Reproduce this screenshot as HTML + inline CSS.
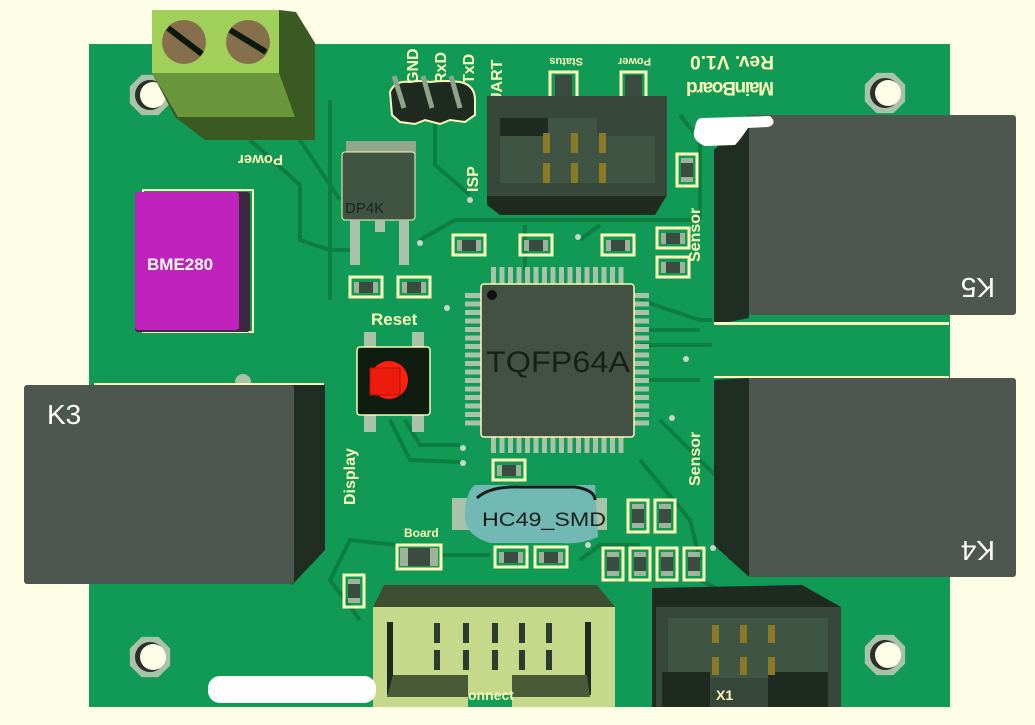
<!DOCTYPE html>
<html><head><meta charset="utf-8"><style>
html,body{margin:0;padding:0;background:#fefee6;}
svg{display:block}
text{font-family:"Liberation Sans",sans-serif;}
</style></head><body>
<svg width="1035" height="725" viewBox="0 0 1035 725" xmlns="http://www.w3.org/2000/svg">
<defs>
<g id="sh"><rect x="0" y="0" width="32" height="20" fill="none" stroke="#fcf9b8" stroke-width="3"/><rect x="4" y="5" width="24" height="11" fill="#9db49b"/><rect x="9" y="5" width="14" height="11" fill="#3c4b3f"/></g>
<g id="sv"><rect x="0" y="0" width="20" height="32" fill="none" stroke="#fcf9b8" stroke-width="3"/><rect x="4" y="4" width="12" height="24" fill="#9db49b"/><rect x="4" y="9" width="12" height="14" fill="#3c4b3f"/></g>
<g id="hole"><polygon points="-13,-31 13,-31 31,-13 31,13 13,31 -13,31 -31,13 -31,-13" transform="scale(0.65)" fill="#a8c3a7"/><circle r="15" fill="#2a2f2b"/><circle cx="3" r="13" fill="#fefee6"/></g>
</defs>
<rect x="89" y="44" width="861" height="663" fill="#109a55"/>
<g stroke="#0d7d42" stroke-width="4" fill="none">
<path d="M250 140 L300 185 L300 240 L330 250 L350 250"/>
<path d="M300 140 L340 200"/>
<path d="M435 122 L435 165 L470 195"/>
<path d="M420 240 L455 220 L700 220"/>
<path d="M525 225 L525 270"/><path d="M600 225 L580 240"/>
<path d="M640 380 L700 380"/><path d="M640 460 L690 520 L700 560"/>
<path d="M660 420 L730 490 L730 560"/>
<path d="M405 420 L420 445 L460 445"/><path d="M390 420 L410 460 L460 462"/>
<path d="M360 620 L330 580 L350 540 L396 545"/>
<path d="M440 555 L490 555"/><path d="M580 560 L600 545 L640 545"/>
<path d="M700 580 L740 600"/><path d="M330 100 L330 300"/>
<path d="M680 115 L700 140 L700 220"/>
<path d="M640 300 L700 320 L712 320"/>
<path d="M640 345 L712 345"/><path d="M640 330 L700 330"/>
</g>
<g fill="#c8d6c6"><circle cx="470" cy="200" r="3"/><circle cx="420" cy="243" r="3"/><circle cx="578" cy="237" r="3"/><circle cx="617" cy="309" r="3"/><circle cx="686" cy="359" r="3"/><circle cx="463" cy="463" r="3"/><circle cx="463" cy="448" r="3"/><circle cx="588" cy="545" r="3"/><circle cx="713" cy="548" r="3"/><circle cx="672" cy="418" r="3"/><circle cx="447" cy="308" r="3"/></g>
<use href="#hole" x="150" y="95"/><use href="#hole" x="885" y="93"/><use href="#hole" x="150" y="657"/><use href="#hole" x="885" y="655"/>
<circle cx="243" cy="382" r="8" fill="#a8c3a7"/><circle cx="597" cy="330" r="8" fill="#a8c3a7"/>
<polygon points="279,10 296,12 315,43 315,140 205,140 175,117 152,73 152,10" fill="#3b5a22"/>
<rect x="152" y="10" width="127" height="63" fill="#a1d05a"/>
<polygon points="152,73 279,73 295,117 178,117" fill="#6a963c"/>
<circle cx="184" cy="42" r="22" fill="#86704c"/><line x1="168" y1="28" x2="202" y2="54" stroke="#0c1a0c" stroke-width="6"/>
<circle cx="248" cy="42" r="22" fill="#86704c"/><line x1="230" y1="30" x2="266" y2="52" stroke="#0c1a0c" stroke-width="6"/>
<text transform="translate(283,155) rotate(180)" fill="#fcf9b8" font-size="15" font-weight="bold">Power</text>
<rect x="143" y="190" width="110" height="142" fill="none" stroke="#fcf9b8" stroke-width="2"/>
<rect x="135" y="192" width="115" height="140" rx="3" fill="#3d2841"/>
<rect x="135" y="192" width="104" height="138" rx="3" fill="#c022bc"/>
<text x="147" y="270" fill="#fff" font-size="17" font-weight="bold">BME280</text>
<rect x="346" y="141" width="70" height="13" fill="#93a68e"/>
<rect x="342" y="152" width="73" height="68" rx="3" fill="#3f5443" stroke="#fcf9b8" stroke-width="1"/>
<text x="345" y="213" fill="#1a261c" font-size="15">DP4K</text>
<rect x="350" y="220" width="10" height="45" fill="#a8c3a7"/><rect x="399" y="220" width="10" height="45" fill="#a8c3a7"/><rect x="375" y="220" width="10" height="12" fill="#a8c3a7"/>
<g fill="#fcf9b8" font-size="16" font-weight="bold">
<text transform="translate(418,84) rotate(-90)">GND</text><text transform="translate(446,84) rotate(-90)">RxD</text><text transform="translate(474,84) rotate(-90)">TxD</text><text transform="translate(502,104) rotate(-90)">UART</text>
</g>
<path d="M390 92 Q395 80 410 82 Q420 80 430 82 Q445 80 460 82 Q475 85 475 100 L475 115 L465 122 L450 120 L440 124 L425 120 L415 124 L400 122 L392 115 Z" fill="#1f2b21" stroke="#fcf9b8" stroke-width="2"/>
<g stroke="#8fa58b" stroke-width="5"><line x1="394" y1="76" x2="404" y2="108"/><line x1="423" y1="76" x2="432" y2="108"/><line x1="451" y1="76" x2="460" y2="108"/></g>
<g fill="#fcf9b8" font-size="16" font-weight="bold">
<text transform="translate(478,192) rotate(-90)">ISP</text>
<text transform="translate(700,262) rotate(-90)">Sensor</text><text transform="translate(700,486) rotate(-90)">Sensor</text>
<text transform="translate(355,505) rotate(-90)">Display</text>
<text x="371" y="325" font-size="17">Reset</text>
<text x="404" y="537" font-size="12">Board</text>
</g>
<g fill="#fcf9b8" font-size="11" font-weight="bold"><text transform="translate(583,58) rotate(180)">Status</text><text transform="translate(651,58) rotate(180)">Power</text></g>
<g fill="#fcf9b8" font-size="19" font-weight="bold"><text transform="translate(774,56) rotate(180)" textLength="84">Rev. V1.0</text><text transform="translate(774,82) rotate(180)" textLength="88">MainBoard</text></g>
<rect x="550" y="72" width="27" height="45" fill="none" stroke="#fcf9b8" stroke-width="3"/><rect x="555" y="75" width="17" height="38" fill="#3c4b3f"/>
<rect x="621" y="72" width="25" height="30" fill="none" stroke="#fcf9b8" stroke-width="3"/><rect x="625" y="75" width="17" height="25" fill="#3c4b3f"/>
<polygon points="487,98 667,98 667,195 655,215 500,215 487,205" fill="#1f2b21"/>
<rect x="487" y="96" width="180" height="100" fill="#374739"/>
<rect x="500" y="118" width="155" height="65" fill="#3f5443"/>
<rect x="500" y="118" width="48" height="18" fill="#1f2b21"/><rect x="597" y="98" width="68" height="38" fill="#374739"/>
<g fill="#8a7a25"><rect x="543" y="133" width="7" height="20"/><rect x="571" y="133" width="7" height="20"/><rect x="599" y="133" width="7" height="20"/><rect x="543" y="163" width="7" height="20"/><rect x="571" y="163" width="7" height="20"/><rect x="599" y="163" width="7" height="20"/></g>
<use href="#sh" x="453" y="235"/><use href="#sh" x="520" y="235"/><use href="#sh" x="602" y="235"/><use href="#sh" x="657" y="228"/><use href="#sh" x="657" y="257"/>
<use href="#sh" x="350" y="277"/><use href="#sh" x="398" y="277"/><use href="#sh" x="493" y="460"/><use href="#sh" x="495" y="547"/><use href="#sh" x="535" y="547"/>
<use href="#sv" x="628" y="500"/><use href="#sv" x="655" y="500"/><use href="#sv" x="603" y="548"/><use href="#sv" x="630" y="548"/><use href="#sv" x="657" y="548"/><use href="#sv" x="684" y="548"/>
<use href="#sv" x="344" y="575"/><use href="#sv" x="677" y="154"/>
<rect x="397" y="545" width="44" height="24" fill="none" stroke="#fcf9b8" stroke-width="3"/><rect x="400" y="548" width="38" height="18" fill="#9db49b"/><rect x="408" y="548" width="22" height="18" fill="#3c4b3f"/>
<g fill="#a8c3a7">
<rect x="491" y="267" width="5" height="17"/><rect x="499.5" y="267" width="5" height="17"/><rect x="508" y="267" width="5" height="17"/><rect x="516.5" y="267" width="5" height="17"/><rect x="525" y="267" width="5" height="17"/><rect x="533.5" y="267" width="5" height="17"/><rect x="542" y="267" width="5" height="17"/><rect x="550.5" y="267" width="5" height="17"/><rect x="559" y="267" width="5" height="17"/><rect x="567.5" y="267" width="5" height="17"/><rect x="576" y="267" width="5" height="17"/><rect x="584.5" y="267" width="5" height="17"/><rect x="593" y="267" width="5" height="17"/><rect x="601.5" y="267" width="5" height="17"/><rect x="610" y="267" width="5" height="17"/><rect x="618.5" y="267" width="5" height="17"/>
<rect x="491" y="436" width="5" height="17"/><rect x="499.5" y="436" width="5" height="17"/><rect x="508" y="436" width="5" height="17"/><rect x="516.5" y="436" width="5" height="17"/><rect x="525" y="436" width="5" height="17"/><rect x="533.5" y="436" width="5" height="17"/><rect x="542" y="436" width="5" height="17"/><rect x="550.5" y="436" width="5" height="17"/><rect x="559" y="436" width="5" height="17"/><rect x="567.5" y="436" width="5" height="17"/><rect x="576" y="436" width="5" height="17"/><rect x="584.5" y="436" width="5" height="17"/><rect x="593" y="436" width="5" height="17"/><rect x="601.5" y="436" width="5" height="17"/><rect x="610" y="436" width="5" height="17"/><rect x="618.5" y="436" width="5" height="17"/>
<rect x="465" y="293" width="17" height="5"/><rect x="465" y="301.5" width="17" height="5"/><rect x="465" y="310" width="17" height="5"/><rect x="465" y="318.5" width="17" height="5"/><rect x="465" y="327" width="17" height="5"/><rect x="465" y="335.5" width="17" height="5"/><rect x="465" y="344" width="17" height="5"/><rect x="465" y="352.5" width="17" height="5"/><rect x="465" y="361" width="17" height="5"/><rect x="465" y="369.5" width="17" height="5"/><rect x="465" y="378" width="17" height="5"/><rect x="465" y="386.5" width="17" height="5"/><rect x="465" y="395" width="17" height="5"/><rect x="465" y="403.5" width="17" height="5"/><rect x="465" y="412" width="17" height="5"/><rect x="465" y="420.5" width="17" height="5"/>
<rect x="632" y="293" width="17" height="5"/><rect x="632" y="301.5" width="17" height="5"/><rect x="632" y="310" width="17" height="5"/><rect x="632" y="318.5" width="17" height="5"/><rect x="632" y="327" width="17" height="5"/><rect x="632" y="335.5" width="17" height="5"/><rect x="632" y="344" width="17" height="5"/><rect x="632" y="352.5" width="17" height="5"/><rect x="632" y="361" width="17" height="5"/><rect x="632" y="369.5" width="17" height="5"/><rect x="632" y="378" width="17" height="5"/><rect x="632" y="386.5" width="17" height="5"/><rect x="632" y="395" width="17" height="5"/><rect x="632" y="403.5" width="17" height="5"/><rect x="632" y="412" width="17" height="5"/><rect x="632" y="420.5" width="17" height="5"/>
</g>
<rect x="481" y="284" width="153" height="153" rx="3" fill="#435144" stroke="#fcf9b8" stroke-width="1.5"/>
<circle cx="492" cy="295" r="5" fill="#111"/>
<text x="486" y="372" fill="#162016" font-size="30" textLength="144" lengthAdjust="spacingAndGlyphs">TQFP64A</text>
<rect x="364" y="332" width="12" height="100" fill="#a8c3a7"/><rect x="412" y="332" width="12" height="100" fill="#a8c3a7"/>
<rect x="357" y="347" width="73" height="68" rx="3" fill="#0f1d10" stroke="#fcf9b8" stroke-width="1.5"/>
<circle cx="389" cy="380" r="19" fill="#ff2010"/><rect x="370" y="368" width="30" height="27" fill="#ec1c0c" stroke="#b01008"/>
<rect x="452" y="498" width="155" height="32" fill="#a8c3a7"/>
<path d="M475 485 L595 485 L598 537 Q580 545 560 543 L490 543 Q462 535 465 510 Q467 490 475 485Z" fill="#72b8b4"/>
<path d="M477 498 Q490 486 520 487 L575 487 Q595 490 595 500" stroke="#162016" stroke-width="3" fill="none"/>
<text x="482" y="526" fill="#162016" font-size="19" textLength="124" lengthAdjust="spacingAndGlyphs">HC49_SMD</text>
<polygon points="290,383 318,383 325,385 325,550 292,585" fill="#1f2d22"/>
<rect x="24" y="385" width="270" height="199" rx="3" fill="#4e5650"/>
<rect x="94" y="383" width="230" height="2" fill="#fcf9b8"/>
<text x="47" y="424" fill="#fff" font-size="28">K3</text>
<polygon points="714,150 749,115 749,318 714,325" fill="#1f2d22"/>
<rect x="749" y="115" width="267" height="200" rx="3" fill="#4e5650"/>
<rect x="714" y="322" width="235" height="3" fill="#fcf9b8"/>
<text transform="translate(995,278) rotate(180)" fill="#fff" font-size="28">K5</text>
<polygon points="714,380 749,378 749,577 714,545" fill="#1f2d22"/>
<rect x="749" y="378" width="267" height="199" rx="3" fill="#4e5650"/>
<rect x="714" y="376" width="235" height="2" fill="#fcf9b8"/>
<text transform="translate(995,541) rotate(180)" fill="#fff" font-size="28">K4</text>
<polygon points="384,585 597,585 615,607 373,607" fill="#3d4f30"/>
<rect x="373" y="607" width="242" height="105" fill="#c6d98a"/>
<rect x="387" y="622" width="6" height="73" fill="#1f2b21"/><rect x="585" y="622" width="6" height="73" fill="#1f2b21"/>
<polygon points="393,675 468,675 468,697 387,697" fill="#485a38"/><polygon points="512,675 587,675 590,697 512,697" fill="#485a38"/>
<rect x="468" y="695" width="44" height="12" fill="#129c54"/>
<text x="468" y="700" fill="#fcf9b8" font-size="14" font-weight="bold">onnect</text>
<g fill="#2e3b2f"><rect x="434" y="623" width="6" height="20"/><rect x="463" y="623" width="6" height="20"/><rect x="492" y="623" width="6" height="20"/><rect x="519" y="623" width="6" height="20"/><rect x="546" y="623" width="6" height="20"/><rect x="434" y="650" width="6" height="20"/><rect x="463" y="650" width="6" height="20"/><rect x="492" y="650" width="6" height="20"/><rect x="519" y="650" width="6" height="20"/><rect x="546" y="650" width="6" height="20"/></g>
<polygon points="652,588 802,585 841,607 841,712 652,712" fill="#1f2b21"/>
<rect x="656" y="607" width="185" height="105" fill="#374739"/>
<rect x="668" y="618" width="160" height="60" fill="#3f5443"/>
<rect x="662" y="672" width="48" height="40" fill="#1f2b21"/><rect x="768" y="672" width="60" height="40" fill="#1f2b21"/>
<g fill="#8a7a25"><rect x="712" y="625" width="7" height="18"/><rect x="740" y="625" width="7" height="18"/><rect x="768" y="625" width="7" height="18"/><rect x="712" y="657" width="7" height="18"/><rect x="740" y="657" width="7" height="18"/><rect x="768" y="657" width="7" height="18"/></g>
<text x="716" y="700" fill="#fcf9b8" font-size="14" font-weight="bold">X1</text>
<path d="M702 118 L770 116 Q778 124 768 127 L748 128 Q740 140 735 145 L705 146 Q690 140 695 128 Q696 118 702 118Z" fill="#fff"/>
<rect x="208" y="676" width="168" height="27" rx="12" fill="#fff"/>
<rect x="0" y="707" width="1035" height="18" fill="#fefee6"/>
</svg>
</body></html>
